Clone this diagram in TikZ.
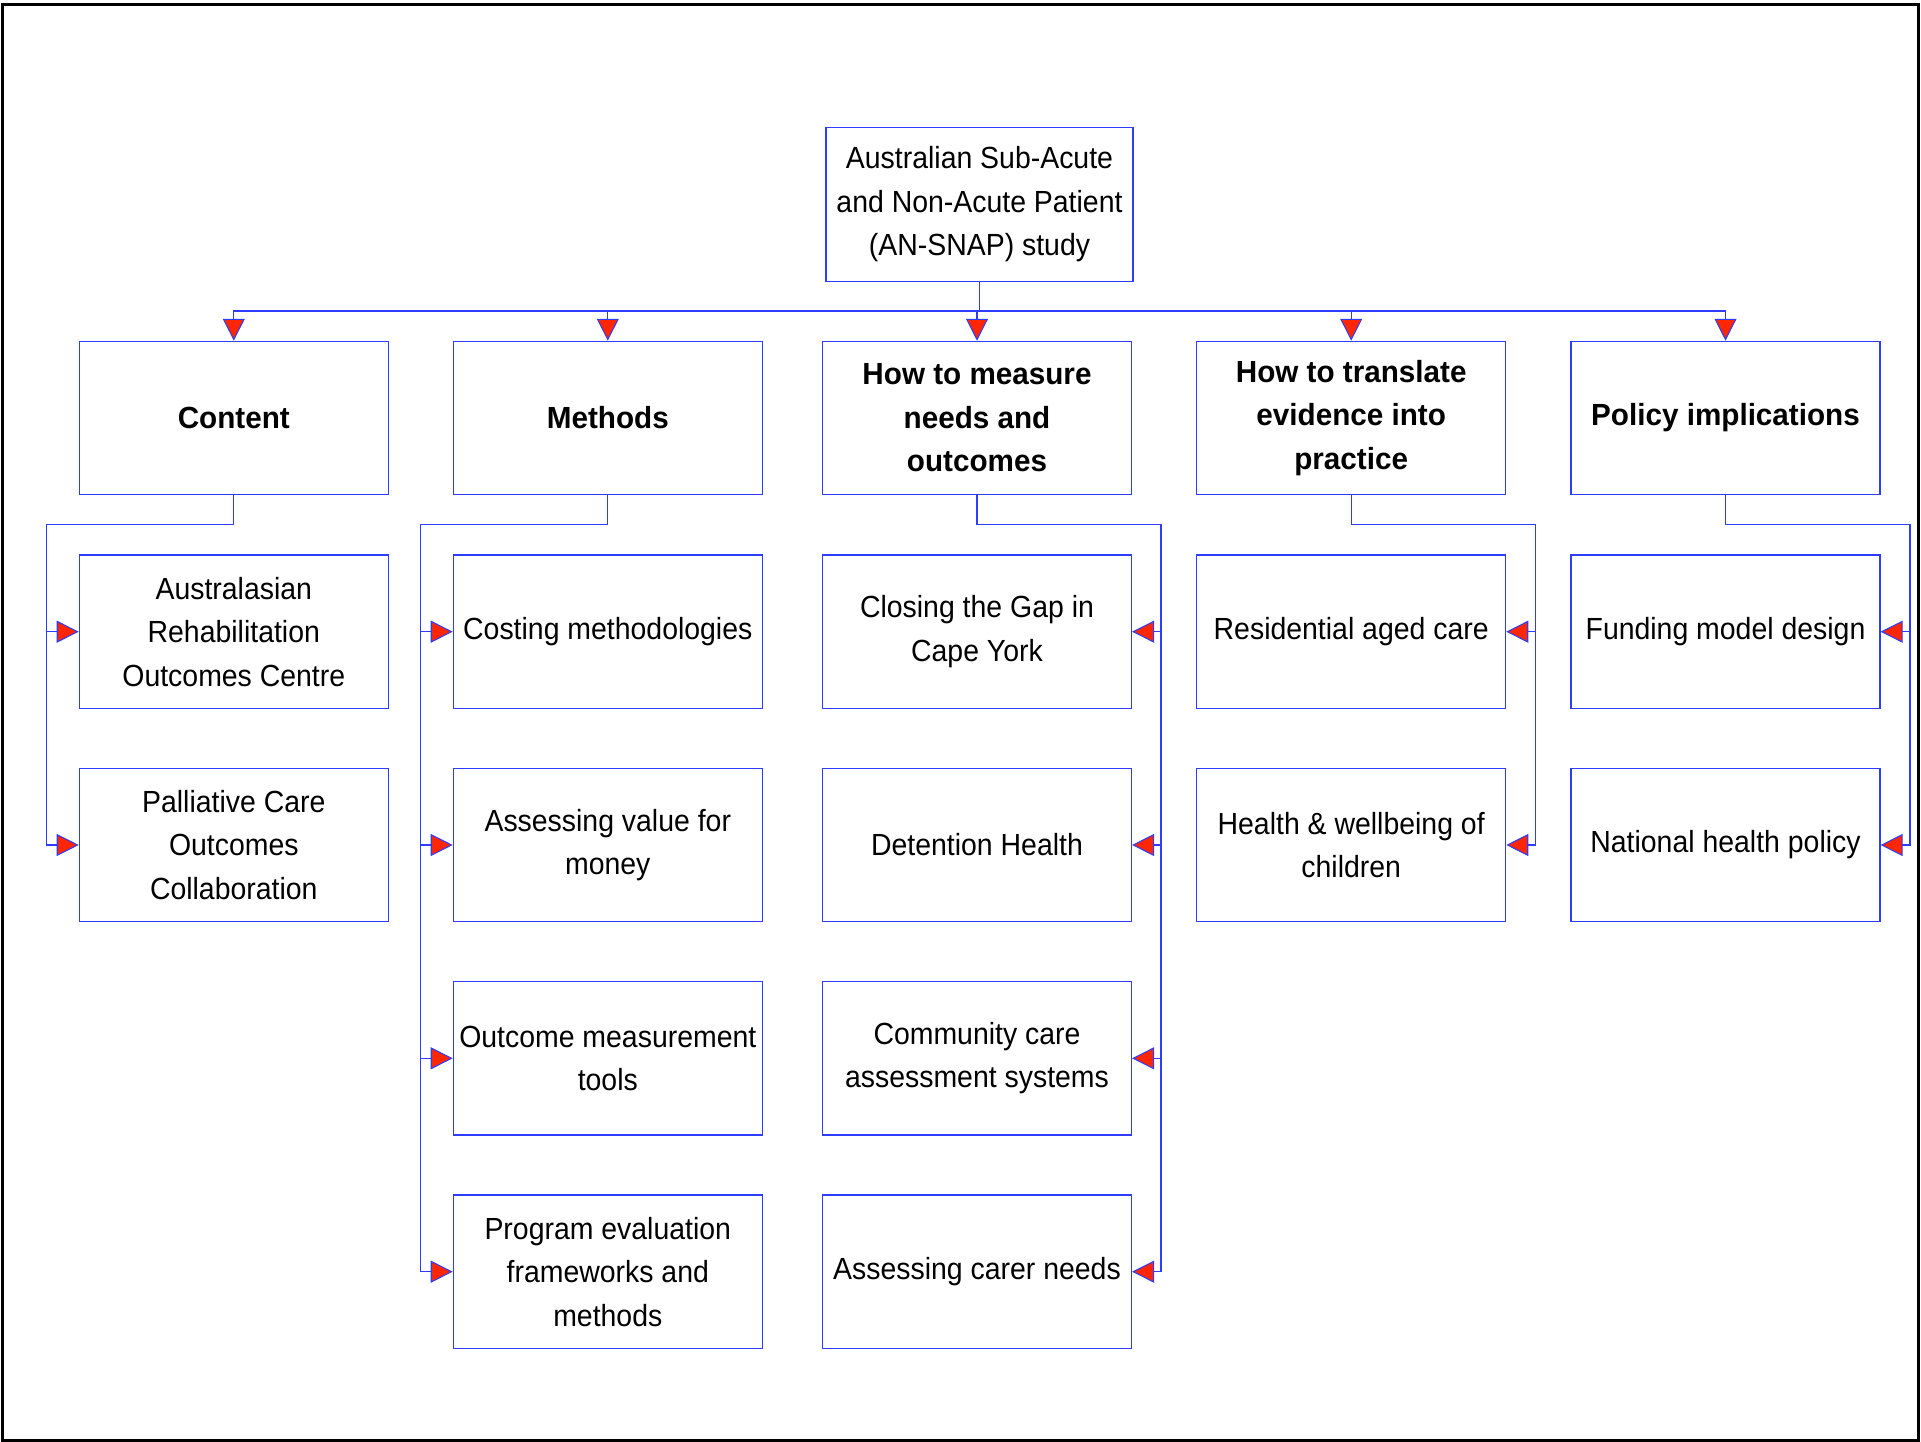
\documentclass[tikz,border=0pt]{standalone}
\usepackage{fontspec}
\setmainfont[FakeStretch=0.93,BoldFeatures={FakeStretch=0.97}]{Liberation Sans}
\usetikzlibrary{arrows.meta}
\definecolor{boxblue}{RGB}{45,60,255}
\definecolor{tipred}{RGB}{255,38,0}

\begin{document}
\begin{tikzpicture}[x=0.02cm, y=-0.02cm,
    every node/.style={draw=boxblue, line width=0.7pt, minimum width=6.18cm, minimum height=3.066cm,
      inner sep=0pt, align=center, font=\fontsize{17.4}{24.8}\selectfont},
    head/.style={font=\fontsize{17.4}{24.8}\selectfont\bfseries},
    link/.style={draw=boxblue, line width=0.6pt, -{Triangle[length=0.44cm, width=0.44cm, fill=tipred]}}]
      \useasboundingbox (0,0) rectangle (1921,1442);
      \draw[black, line width=0.06cm] (2.5,4.7) rectangle (1918.5,1440.5);
      % study and the five themes
      \node (0) at (979.5,204.5) [minimum width=6.14cm] {Australian Sub-Acute\\and Non-Acute Patient\\(AN-SNAP) study};
      \node (1) at (233.8,418) [head] {Content};
      \node (2) at (607.8,418) [head] {Methods};
      \node (3) at (977,418) [head] {How to measure\\needs and\\outcomes};
      \node (4) at (1351.2,418) [head] {How to translate\\evidence into\\practice};
      \node (5) at (1725.5,418) [head] {Policy implications};
      % projects under each theme
      \node (11) at (233.8,631.7) {Australasian\\Rehabilitation\\Outcomes Centre};
      \node (12) at (233.8,845) {Palliative Care\\Outcomes\\Collaboration};
      \node (21) at (607.8,631.7) {Costing methodologies};
      \node (22) at (607.8,845) {Assessing value for\\money};
      \node (23) at (607.8,1058.3) {Outcome measurement\\tools};
      \node (24) at (607.8,1271.7) {Program evaluation\\frameworks and\\methods};
      \node (31) at (977,631.7) {Closing the Gap in\\Cape York};
      \node (32) at (977,845) {Detention Health};
      \node (33) at (977,1058.3) {Community care\\assessment systems};
      \node (34) at (977,1271.7) {Assessing carer needs};
      \node (41) at (1351.2,631.7) {Residential aged care};
      \node (42) at (1351.2,845) {Health \& wellbeing of\\children};
      \node (51) at (1725.5,631.7) {Funding model design};
      \node (52) at (1725.5,845) {National health policy};
      % bus and trunk corners
      \coordinate (bus) at (979.5,311);
      \coordinate (t1) at (46.7,524.3);
      \coordinate (t2) at (420.7,524.3);
      \coordinate (t3) at (1161,524.3);
      \coordinate (t4) at (1535.7,524.3);
      \coordinate (t5) at (1910,524.3);
      \draw[boxblue, line width=0.6pt] (0) -- (bus);
      \foreach \dest in {1,...,5}
        \path[link] (bus) -| (\dest);
      \foreach \source/\dest in {1/11, 1/12, 2/21, 2/22, 2/23, 2/24, 3/31, 3/32, 3/33, 3/34, 4/41, 4/42, 5/51, 5/52}
        \path[link] (\source) |- (t\source) |- (\dest);
    \end{tikzpicture}
\end{document}
